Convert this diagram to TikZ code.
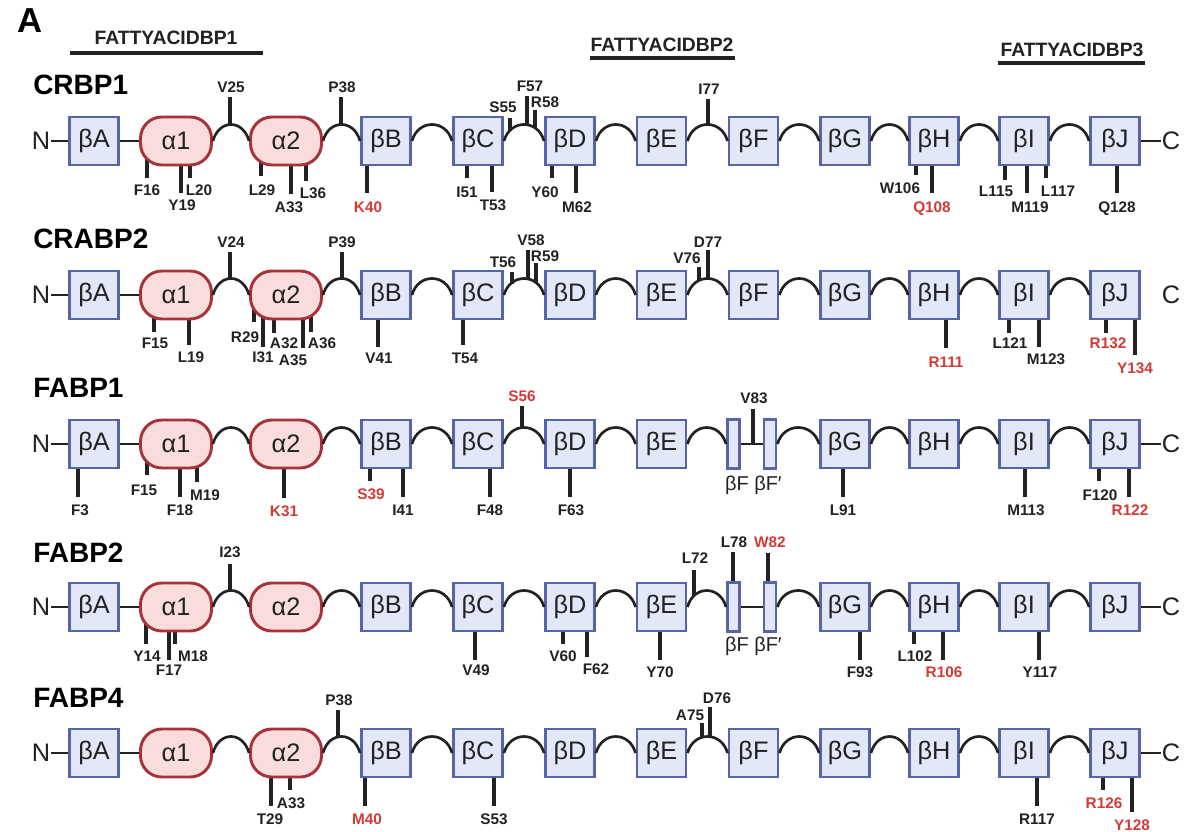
\documentclass[tikz,border=0pt]{standalone}
\usepackage{fontspec}
\setmainfont{Liberation Sans}
\pgfdeclarelayer{paper}
\pgfdeclarelayer{ticks}
\pgfsetlayers{paper,ticks,main}

\definecolor{ink}{HTML}{222222}
\definecolor{bfill}{HTML}{E3E8F9}
\definecolor{bline}{HTML}{5565A8}
\definecolor{afill}{HTML}{F9DDDC}
\definecolor{aline}{HTML}{A8323A}
\definecolor{keyred}{HTML}{D23B36}

\tikzset{
  strand/.style={draw=bline, fill=bfill, line width=2.2pt, minimum width=36.75pt,
    minimum height=36pt, inner sep=0pt, text=ink, font=\fontsize{19}{19}\selectfont},
  narrow/.style={strand, minimum width=9pt, minimum height=36.75pt},
  helix/.style={draw=aline, fill=afill, line width=2.2pt, minimum width=53.25pt,
    minimum height=36pt, rounded corners=16pt, inner sep=0pt, text=ink,
    font=\fontsize{19}{19}\selectfont},
  term/.style={inner sep=0.5pt, text=ink, font=\fontsize{19}{19}\selectfont},
  sub/.style={inner sep=0pt, anchor=base, text=ink, font=\fontsize{15}{15}\selectfont},
  link/.style={draw=ink, line width=2pt},
  tick/.style={draw=ink, line width=2.6pt},
  res/.style={inner sep=0pt, anchor=base, text=ink, font=\bfseries\fontsize{11.5}{12}\selectfont},
  keyres/.style={text=keyred},
  title/.style={inner sep=0pt, anchor=base west, text=black, font=\bfseries\fontsize{21}{21}\selectfont},
  panel/.style={inner sep=0pt, anchor=base west, text=black, font=\bfseries\fontsize{26}{26}\selectfont},
  head/.style={inner sep=0pt, anchor=base, text=ink, font=\bfseries\fontsize{14.5}{15}\selectfont},
  bar/.style={draw=ink, line width=3pt},
}

% loop between two elements of a chain
\newcommand\hump[2]{\draw[link] (#1.east) .. controls +(6,-22) and +(-6,-22) .. (#2.west);}

% residue mark: name, extra style, tick x, tick start y, tick end y, label x, label baseline, text
\newcommand\res[8]{%
  \begin{pgfonlayer}{ticks}\draw[tick] (#3,#4) -- (#3,#5);\end{pgfonlayer}
  \node[res,#2] (#1) at (#6,#7) {#8};}

% N terminus up to strand E
\newcommand\chainstart[2]{%
  \node[term] (#1N) at (41,#2) {N};
  \node[strand] (#1A) at (94,#2) {βA};
  \node[helix] (#1a1) at (176,#2) {α1};
  \node[helix] (#1a2) at (286,#2) {α2};
  \node[strand] (#1B) at (386,#2) {βB};
  \node[strand] (#1Cc) at (478,#2) {βC};
  \node[strand] (#1D) at (570,#2) {βD};
  \node[strand] (#1E) at (661.5,#2) {βE};
  \draw[link] (#1N.east) -- (#1A.west);
  \draw[link] (#1A.east) -- (#1a1.west);
  \hump{#1a1}{#1a2}\hump{#1a2}{#1B}\hump{#1B}{#1Cc}\hump{#1Cc}{#1D}\hump{#1D}{#1E}}

% strand G up to C terminus
\newcommand\chainend[2]{%
  \node[strand] (#1G) at (845,#2) {βG};
  \node[strand] (#1H) at (934,#2) {βH};
  \node[strand] (#1I) at (1024,#2) {βI};
  \node[strand] (#1J) at (1115,#2) {βJ};
  \node[term] (#1T) at (1171,#2) {C};
  \hump{#1G}{#1H}\hump{#1H}{#1I}\hump{#1I}{#1J}}

% single strand F
\newcommand\fullF[2]{%
  \node[strand] (#1F) at (753.5,#2) {βF};
  \hump{#1E}{#1F}\hump{#1F}{#1G}}

% strand F split into F and F'
\newcommand\splitF[3]{%
  \node[narrow] (#1F) at (733.5,#2) {};
  \node[narrow] (#1Fp) at (770,#2) {};
  \node[sub] (#1Fl) at (737,#3) {βF};
  \node[sub] (#1Fpl) at (768,#3) {βF′};
  \hump{#1E}{#1F}
  \draw[link] (#1F.east) -- (#1Fp.west);
  \hump{#1Fp}{#1G}}

\begin{document}
\begin{tikzpicture}[x=0.75pt, y=-0.75pt]
\useasboundingbox (0,0) rectangle (1187,831);
\begin{pgfonlayer}{paper}\fill[white] (0,0) rectangle (1187,831);\end{pgfonlayer}

% panel letter and domain headers
\node[panel] (panelA) at (17,33) {A};
\node[head] (h1) at (166,45) {FATTYACIDBP1};
\draw[bar] (70,53) -- (263,53);
\node[head] (h2) at (662,52) {FATTYACIDBP2};
\draw[bar] (590,58) -- (735,58);
\node[head] (h3) at (1072,57) {FATTYACIDBP3};
\draw[bar] (998,63) -- (1145,63);

% protein names
\node[title] (tCRBP1) at (33,95) {CRBP1};
\node[title] (tCRABP2) at (33,248) {CRABP2};
\node[title] (tFABP1) at (33,397) {FABP1};
\node[title] (tFABP2) at (33,562) {FABP2};
\node[title] (tFABP4) at (33,707) {FABP4};

% ---------- CRBP1 ----------
\chainstart{a}{141}\chainend{a}{141}\fullF{a}{141}
\draw[link] (aJ.east) -- (aT.west);
\res{aV25}{}{230}{125}{97}{231}{93}{V25}
\res{aP38}{}{341}{125}{97}{342}{93}{P38}
\res{aS55}{}{510}{131}{118}{503}{113}{S55}
\res{aF57}{}{527}{125}{96}{530}{92}{F57}
\res{aR58}{}{535}{128}{110}{545}{108}{R58}
\res{aI77}{}{708}{125}{99}{709}{95}{I77}
\res{aF16}{}{147}{141}{178}{147}{195}{F16}
\res{aY19}{}{181}{141}{193}{182}{210}{Y19}
\res{aL20}{}{190}{141}{178}{199}{195}{L20}
\res{aL29}{}{261}{141}{176}{262}{195}{L29}
\res{aA33}{}{291}{141}{194}{289}{212}{A33}
\res{aL36}{}{306}{141}{181}{313}{198}{L36}
\res{aK40}{keyres}{367}{141}{193}{368}{212}{K40}
\res{aI51}{}{467}{141}{178}{467}{197}{I51}
\res{aT53}{}{492}{141}{192}{493}{210}{T53}
\res{aY60}{}{552}{141}{178}{545}{197}{Y60}
\res{aM62}{}{576}{141}{193}{577}{212}{M62}
\res{aW106}{}{916}{141}{175}{900}{193}{W106}
\res{aQ108}{keyres}{932}{141}{193}{932}{212}{Q108}
\res{aL115}{}{1005}{141}{180}{996}{196}{L115}
\res{aM119}{}{1027}{141}{193}{1030}{212}{M119}
\res{aL117}{}{1046}{141}{178}{1058}{196}{L117}
\res{aQ128}{}{1117}{141}{193}{1117}{212}{Q128}

% ---------- CRABP2 ----------
\chainstart{b}{295}\chainend{b}{295}\fullF{b}{295}
\res{bV24}{}{230}{279}{252}{231}{247}{V24}
\res{bP39}{}{342}{279}{252}{342}{247}{P39}
\res{bT56}{}{512}{284}{272}{503}{267}{T56}
\res{bV58}{}{528}{280}{250}{531}{245}{V58}
\res{bR59}{}{536}{283}{263}{545}{261}{R59}
\res{bV76}{}{699}{281}{267}{687}{263}{V76}
\res{bD77}{}{708}{279}{250}{708}{247}{D77}
\res{bF15}{}{154}{295}{332}{155}{348}{F15}
\res{bL19}{}{189}{295}{345}{191}{362}{L19}
\res{bR29}{}{254}{295}{322}{245}{342}{R29}
\res{bI31}{}{263}{295}{347}{263}{362}{I31}
\res{bA32}{}{274}{295}{333}{284}{348}{A32}
\res{bA35}{}{303}{295}{348}{293}{365}{A35}
\res{bA36}{}{311}{295}{332}{322}{348}{A36}
\res{bV41}{}{378}{295}{347}{379}{363}{V41}
\res{bT54}{}{463}{295}{345}{465}{363}{T54}
\res{bR111}{keyres}{946}{295}{348}{946}{367}{R111}
\res{bL121}{}{1009}{295}{333}{1010}{348}{L121}
\res{bM123}{}{1039}{295}{347}{1046}{364}{M123}
\res{bR132}{keyres}{1106}{295}{333}{1108}{348}{R132}
\res{bY134}{keyres}{1135}{295}{355}{1135}{373}{Y134}

% ---------- FABP1 ----------
\chainstart{c}{444}\chainend{c}{444}\splitF{c}{444}{490}
\draw[link] (cJ.east) -- (cT.west);
\res{cS56}{keyres}{522}{428}{406}{522}{401}{S56}
\res{cV83}{}{753}{444}{409}{754}{403}{V83}
\res{cF3}{}{78}{444}{497}{80}{515}{F3}
\res{cF15}{}{147}{444}{475}{144}{495}{F15}
\res{cF18}{}{180}{444}{497}{180}{515}{F18}
\res{cM19}{}{197}{444}{482}{205}{500}{M19}
\res{cK31}{keyres}{284}{444}{498}{284}{516}{K31}
\res{cS39}{keyres}{370}{444}{481}{371}{499}{S39}
\res{cI41}{}{403}{444}{497}{403}{515}{I41}
\res{cF48}{}{490}{444}{497}{490}{515}{F48}
\res{cF63}{}{570}{444}{497}{571}{515}{F63}
\res{cL91}{}{843}{444}{497}{843}{515}{L91}
\res{cM113}{}{1025}{444}{497}{1026}{515}{M113}
\res{cF120}{}{1099}{444}{481}{1100}{500}{F120}
\res{cR122}{keyres}{1129}{444}{497}{1130}{515}{R122}

% ---------- FABP2 ----------
\chainstart{d}{607}\chainend{d}{607}\splitF{d}{607}{651}
\draw[link] (dJ.east) -- (dT.west);
\res{dI23}{}{230}{591}{564}{230}{557}{I23}
\res{dL72}{}{694}{596}{570}{695}{563}{L72}
\res{dL78}{}{733}{607}{552}{734}{547}{L78}
\res{dW82}{keyres}{768}{607}{553}{770}{547}{W82}
\res{dY14}{}{146}{607}{644}{147}{661}{Y14}
\res{dF17}{}{169}{607}{660}{169}{675}{F17}
\res{dM18}{}{175}{607}{644}{193}{661}{M18}
\res{dV49}{}{475}{607}{660}{476}{675}{V49}
\res{dV60}{}{563}{607}{644}{563}{661}{V60}
\res{dF62}{}{587}{607}{657}{596}{674}{F62}
\res{dY70}{}{660}{607}{660}{660}{677}{Y70}
\res{dF93}{}{860}{607}{660}{860}{677}{F93}
\res{dL102}{}{914}{607}{644}{915}{661}{L102}
\res{dR106}{keyres}{943}{607}{660}{944}{677}{R106}
\res{dY117}{}{1039}{607}{660}{1040}{677}{Y117}

% ---------- FABP4 ----------
\chainstart{e}{753}\chainend{e}{753}\fullF{e}{753}
\draw[link] (eJ.east) -- (eT.west);
\res{eP38}{}{338}{737}{710}{339}{705}{P38}
\res{eA75}{}{702}{738}{723}{690}{720}{A75}
\res{eD76}{}{710}{737}{707}{717}{703}{D76}
\res{eT29}{}{271}{753}{806}{270}{824}{T29}
\res{eA33}{}{290}{753}{790}{291}{808}{A33}
\res{eM40}{keyres}{365}{753}{806}{367}{824}{M40}
\res{eS53}{}{494}{753}{806}{494}{824}{S53}
\res{eR117}{}{1037}{753}{806}{1037}{824}{R117}
\res{eR126}{keyres}{1103}{753}{790}{1104}{808}{R126}
\res{eY128}{keyres}{1132}{753}{812}{1132}{830}{Y128}
\end{tikzpicture}
\end{document}
